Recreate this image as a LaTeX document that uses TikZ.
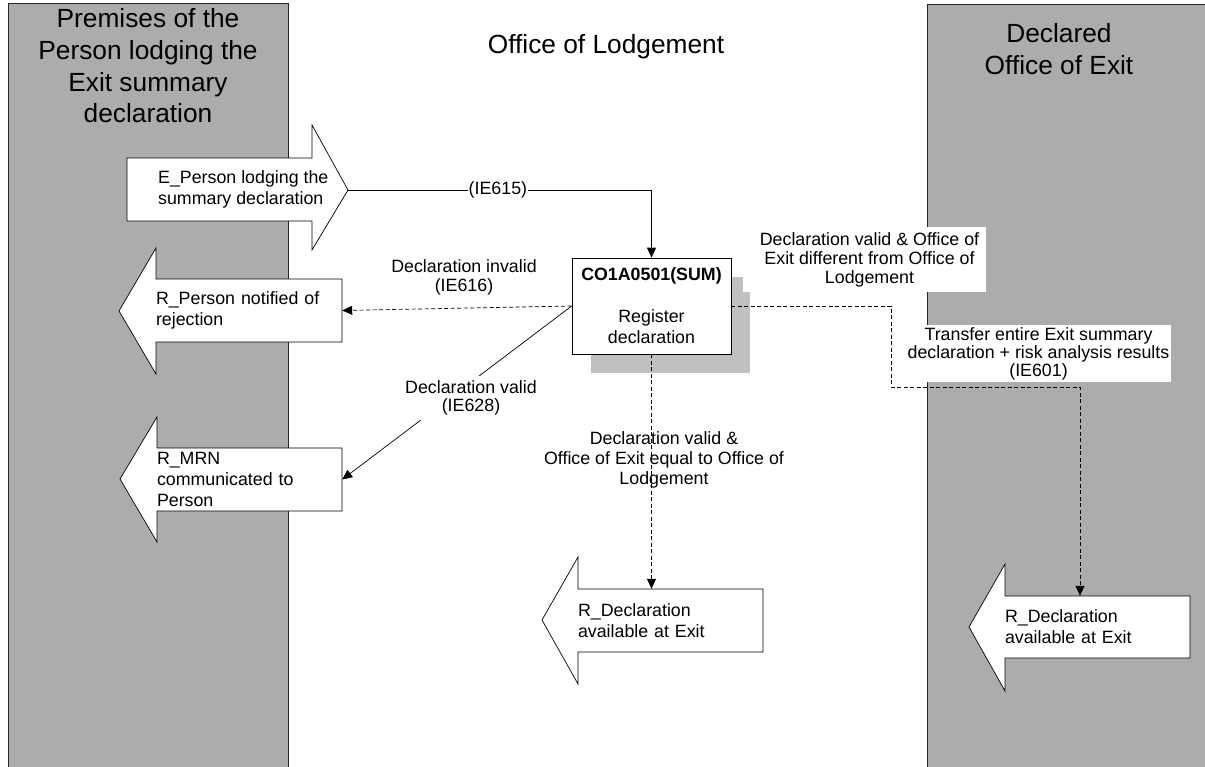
\documentclass[tikz,border=0pt]{standalone}
\usepackage{fontspec}
\setmainfont{Liberation Sans}
\usetikzlibrary{arrows.meta,calc}
\newcommand{\txtS}{\fontsize{17.8}{21}\selectfont}
\newcommand{\txtT}{\fontsize{26.3}{31.7}\selectfont}
\definecolor{bandgray}{RGB}{172,172,172}
\definecolor{shadowgray}{RGB}{192,192,192}
\tikzset{
  band/.style={draw=black!85, line width=0.8pt, fill=bandgray},
  titletext/.style={font=\txtT, align=center, inner sep=0pt},
  blockarrow/.style={draw=black, line width=0.7pt, fill=white},
  body/.style={inner sep=0pt, align=left, font=\txtS},
  lbl/.style={font=\txtS, align=center},
  conn/.style={line width=0.7pt, -{Triangle[length=10pt,width=9pt]}},
  dconn/.style={conn, dash pattern=on 4pt off 2.5pt},
}
\begin{document}
\begin{tikzpicture}[x=1pt,y=-1pt]
\useasboundingbox (0,0) rectangle (1205,766);
% swim lanes
\path[band] (8,3) rectangle (288,775);
\path[band] (927,4) rectangle (1215,775);
\node[titletext] (tleft) at (148,66) {Premises of the\\Person lodging the\\Exit summary\\declaration};
\node[titletext] (tmid) at (606,47) {Office of Lodgement};
\node[titletext] (tright) at (1059,49) {Declared\\Office of Exit};

% E_Person block arrow (right pointing)
\draw[blockarrow] (127,158) -- (312,158) -- (312,125) -- (348,190) -- (312,250) -- (312,221) -- (127,221) -- cycle;
\node[body, anchor=west] (eperson) at (158,189.5) {E\_Person lodging the\\summary declaration};
\coordinate (etip) at (348,190);

% R_Person block arrow
\draw[blockarrow] (119,311) -- (156,248) -- (156,279) -- (342,279) -- (342,342) -- (156,342) -- (156,374) -- cycle;
\node[body, text width=186pt, minimum height=63pt] (rperson) at (249,310.5) {R\_Person notified of\\rejection};

% R_MRN block arrow
\draw[blockarrow] (120,479) -- (157,417) -- (157,448) -- (342,448) -- (342,511) -- (157,511) -- (157,542) -- cycle;
\node[body, text width=185pt, minimum height=63pt] (rmrn) at (249.5,479.5) {R\_MRN\\communicated to\\Person};

% R_Declaration (centre)
\draw[blockarrow] (542,620) -- (578,557) -- (578,589) -- (763,589) -- (763,652) -- (578,652) -- (578,684) -- cycle;
\node[body, text width=185pt, minimum height=63pt] (rdeclc) at (670.5,620.5) {R\_Declaration\\available at Exit};

% R_Declaration (exit office)
\draw[blockarrow] (969,627) -- (1005,564) -- (1005,596) -- (1190,596) -- (1190,658) -- (1005,658) -- (1005,691) -- cycle;
\node[body, text width=185pt, minimum height=62pt] (rdeclx) at (1097.5,627) {R\_Declaration\\available at Exit};

% process box with stacked shadow
\fill[shadowgray] (591,277) rectangle (743,373);
\fill[shadowgray] (591,292) rectangle (750,373);
\node[draw, fill=white, line width=0.7pt, minimum width=159pt, minimum height=96pt, inner sep=0pt, align=center, font=\txtS] (box) at (651.5,306) {\textbf{CO1A0501(SUM)}\\[21pt]Register\\declaration};

% connectors
\draw[conn] (etip) -| (box.north) node[pos=0.247, fill=white, inner sep=1pt, font=\txtS] (l615) {(IE615)};

\draw[dconn] (box.west) -- (rperson.east);
\node[lbl, font=\fontsize{17.8}{19}\selectfont] (linv) at (464,277.5) {Declaration invalid\\(IE616)};

\draw[conn] (box.west) -- (rmrn.east);
\node[lbl, fill=white, inner sep=4pt, font=\fontsize{17.8}{18.5}\selectfont] (lval) at (471,398) {Declaration valid\\(IE628)};

\draw[dconn] (box.south) -- (box.south |- rdeclc.north);
\node[lbl, font=\fontsize{17.8}{20}\selectfont] (lequal) at (664,460) {Declaration valid \&\\Office of Exit equal to Office of\\Lodgement};

\coordinate (bend) at (891,387);
\draw[dconn] (box.east) -| (bend) -| ([xshift=-17.5pt]rdeclx.north);
\node[lbl, fill=white, inner xsep=6.5pt, inner ysep=5pt, font=\fontsize{17.8}{19}\selectfont] (ldiff) at (869.5,259.5) {Declaration valid \& Office of\\Exit different from Office of\\Lodgement};
\node[lbl, fill=white, inner xsep=2pt, inner ysep=2pt, font=\fontsize{17.8}{18}\selectfont] (ltrans) at (1038.5,353.5) {Transfer entire Exit summary\\declaration + risk analysis results\\(IE601)};
\end{tikzpicture}
\end{document}
